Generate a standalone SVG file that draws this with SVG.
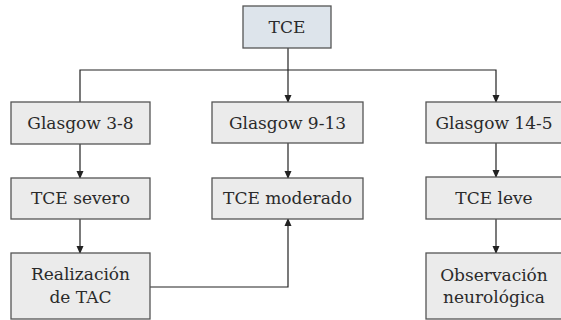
<svg xmlns="http://www.w3.org/2000/svg" width="561" height="320" viewBox="0 0 561 320">
<style>
.box{fill:#ebebeb;stroke:#555;stroke-width:1.3}
.root{fill:#dde4eb;stroke:#555;stroke-width:1.3}
.t{font-family:"DejaVu Serif","Liberation Serif",serif;font-size:17px;fill:#2a2a2a;text-anchor:middle}
.c{fill:none;stroke:#222;stroke-width:1.2}
</style>
<defs>
<marker id="ah" markerWidth="8" markerHeight="8" refX="7" refY="4" orient="auto" markerUnits="userSpaceOnUse">
<path d="M0,0.5 L8,4 L0,7.5 Z" fill="#222"/>
</marker>
</defs>
<rect width="561" height="320" fill="#fff"/>
<g id="connectors">
<path class="c" d="M288,48 V102" marker-end="url(#ah)"/>
<path class="c" d="M80,102 V70 H496 V102" marker-end="url(#ah)"/>
<path class="c" d="M80,144 V178" marker-end="url(#ah)"/>
<path class="c" d="M80,219 V253" marker-end="url(#ah)"/>
<path class="c" d="M288,143 V178" marker-end="url(#ah)"/>
<path class="c" d="M496,143 V177" marker-end="url(#ah)"/>
<path class="c" d="M496,219 V253" marker-end="url(#ah)"/>
<path class="c" d="M150,287 H288 V219" marker-end="url(#ah)"/>
</g>
<g id="tce"><rect class="root" x="243" y="6" width="88" height="42"/><text class="t" x="287" y="33">TCE</text></g>
<g id="g38"><rect class="box" x="11" y="102" width="139" height="42"/><text class="t" x="80.5" y="129">Glasgow 3-8</text></g>
<g id="g913"><rect class="box" x="212" y="102" width="151" height="41"/><text class="t" x="287.5" y="129">Glasgow 9-13</text></g>
<g id="g145"><rect class="box" x="426" y="102" width="138" height="41"/><text class="t" x="494" y="129">Glasgow 14-5</text></g>
<g id="severo"><rect class="box" x="11" y="178" width="139" height="41"/><text class="t" x="80.5" y="204">TCE severo</text></g>
<g id="moderado"><rect class="box" x="212" y="178" width="151" height="41"/><text class="t" x="287.5" y="204">TCE moderado</text></g>
<g id="leve"><rect class="box" x="426" y="177" width="138" height="42"/><text class="t" x="494" y="204">TCE leve</text></g>
<g id="tac"><rect class="box" x="11" y="253" width="139" height="66"/><text class="t" x="80.5" y="280">Realización</text><text class="t" x="80.5" y="303">de TAC</text></g>
<g id="obs"><rect class="box" x="426" y="253" width="138" height="66"/><text class="t" x="494" y="281">Observación</text><text class="t" x="494" y="303">neurológica</text></g>
</svg>
